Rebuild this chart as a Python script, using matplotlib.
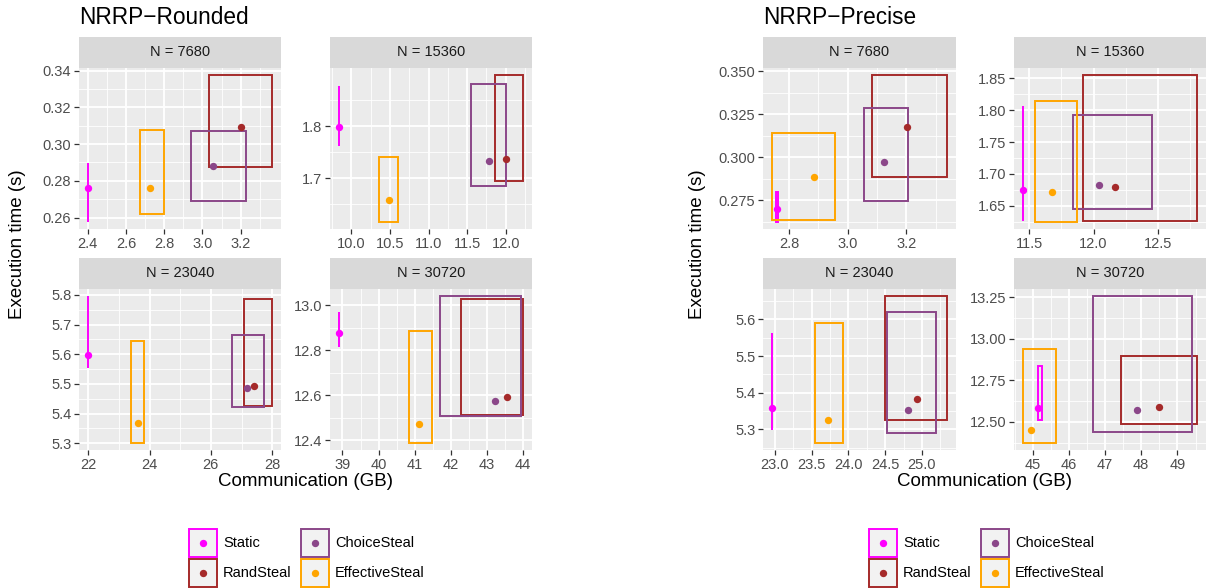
"""Communication vs execution time for the NRRP variants, one facet per N."""

import matplotlib
matplotlib.use("Agg")
import matplotlib.pyplot as plt
from matplotlib.patches import Rectangle
from matplotlib.ticker import FormatStrFormatter

plt.rcParams["font.family"] = ["Liberation Sans", "DejaVu Sans"]

strategies = ["Static", "RandSteal", "ChoiceSteal", "EffectiveSteal"]
colors = ["#FF00FF", "#A52A2A", "#8B4789", "#FFA500"]
sizes = [7680, 15360, 23040, 30720]

# rows = N, columns = strategies (Static, RandSteal, ChoiceSteal, EffectiveSteal)
rounded_x = [[2.403, 3.200, 3.057, 2.726],
             [9.844, 12.004, 11.786, 10.484],
             [22.0, 27.40, 27.18, 23.616],
             [38.91, 43.55, 43.22, 41.13]]
rounded_y = [[0.2761, 0.3093, 0.2881, 0.2761],
             [1.799, 1.736, 1.734, 1.659],
             [5.596, 5.494, 5.487, 5.367],
             [12.878, 12.595, 12.574, 12.474]]
rounded_xmin = [[2.403, 3.036, 2.940, 2.675],
                [9.844, 11.857, 11.546, 10.363],
                [22.0, 27.076, 26.686, 23.40],
                [38.91, 42.27, 41.70, 40.83]]
rounded_xmax = [[2.403, 3.362, 3.228, 2.797],
                [9.844, 12.220, 12.000, 10.609],
                [22.0, 27.987, 27.748, 23.81],
                [38.91, 43.99, 43.94, 41.47]]
rounded_ymin = [[0.2578, 0.2878, 0.2689, 0.2618],
                [1.761, 1.695, 1.685, 1.617],
                [5.553, 5.427, 5.423, 5.302],
                [12.815, 12.515, 12.509, 12.390]]
rounded_ymax = [[0.2896, 0.3374, 0.3071, 0.3077],
                [1.877, 1.897, 1.880, 1.741],
                [5.795, 5.786, 5.664, 5.643],
                [12.970, 13.028, 13.040, 12.888]]
rounded_xticks = [[2.4, 2.6, 2.8, 3.0, 3.2],
                  [10.0, 10.5, 11.0, 11.5, 12.0],
                  [22, 24, 26, 28],
                  [39, 40, 41, 42, 43, 44]]
rounded_yticks = [[0.26, 0.28, 0.30, 0.32, 0.34],
                  [1.7, 1.8],
                  [5.3, 5.4, 5.5, 5.6, 5.7, 5.8],
                  [12.4, 12.6, 12.8, 13.0]]
rounded_xfmt = ["%.1f", "%.1f", "%d", "%d"]
rounded_yfmt = ["%.2f", "%.1f", "%.1f", "%.1f"]

precise_x = [[2.758, 3.202, 3.122, 2.885],
             [11.448, 12.165, 12.041, 11.675],
             [22.96, 24.93, 24.81, 23.728],
             [45.155, 48.479, 47.886, 44.954]]
precise_y = [[0.2696, 0.3176, 0.2971, 0.2882],
             [1.6746, 1.680, 1.682, 1.671],
             [5.357, 5.384, 5.354, 5.326],
             [12.585, 12.591, 12.569, 12.452]]
precise_xmin = [[2.754, 3.081, 3.054, 2.741],
                [11.448, 11.920, 11.840, 11.544],
                [22.96, 24.502, 24.529, 23.548],
                [45.137, 47.447, 46.67, 44.726]]
precise_xmax = [[2.762, 3.339, 3.207, 2.958],
                [11.448, 12.809, 12.459, 11.871],
                [22.96, 25.344, 25.186, 23.928],
                [45.247, 49.548, 49.41, 45.639]]
precise_ymin = [[0.2624, 0.2884, 0.2746, 0.2632],
                [1.6267, 1.6265, 1.645, 1.6249],
                [5.299, 5.325, 5.289, 5.2635],
                [12.508, 12.485, 12.438, 12.374]]
precise_ymax = [[0.2795, 0.3475, 0.3287, 0.3137],
                [1.8068, 1.855, 1.793, 1.8149],
                [5.564, 5.663, 5.621, 5.591],
                [12.834, 12.895, 13.256, 12.940]]
precise_xticks = [[2.8, 3.0, 3.2],
                  [11.5, 12.0, 12.5],
                  [23.0, 23.5, 24.0, 24.5, 25.0],
                  [45, 46, 47, 48, 49]]
precise_yticks = [[0.275, 0.300, 0.325, 0.350],
                  [1.65, 1.70, 1.75, 1.80, 1.85],
                  [5.3, 5.4, 5.5, 5.6],
                  [12.50, 12.75, 13.00, 13.25]]
precise_xfmt = ["%.1f", "%.1f", "%.1f", "%d"]
precise_yfmt = ["%.3f", "%.2f", "%.1f", "%.2f"]

W, H = 1209, 588
fig = plt.figure(figsize=(W / 100, H / 100), dpi=100)

TICK_COL = "#4D4D4D"


def px_axes(x0, y0, x1, y1):
    return fig.add_axes([x0 / W, 1 - y1 / H, (x1 - x0) / W, (y1 - y0) / H])


def minor_ticks(ticks):
    step = ticks[1] - ticks[0]
    return [ticks[0] - step / 2] + [t + step / 2 for t in ticks]


def facet(box, n, x, y, xmin, xmax, ymin, ymax, xt, yt, xf, yf):
    x0, x1, top = box
    strip = px_axes(x0, top, x1, top + 31)
    strip.set_facecolor("#D9D9D9")
    strip.set_xticks([])
    strip.set_yticks([])
    for s in strip.spines.values():
        s.set_visible(False)
    strip.text(0.5, 0.5, "N = %d" % n, ha="center", va="center",
               fontsize=10.5, color="#1A1A1A", transform=strip.transAxes)

    ax = px_axes(x0, top + 31, x1, top + 192)
    ax.set_facecolor("#EBEBEB")
    for i in range(len(strategies)):
        ax.add_patch(Rectangle((xmin[i], ymin[i]), xmax[i] - xmin[i],
                               ymax[i] - ymin[i], fill=False,
                               edgecolor=colors[i], linewidth=1.4, zorder=3))
        ax.scatter(x[i], y[i], s=28, color=colors[i], zorder=4, linewidths=0)

    ax.set_xticks(xt)
    ax.set_yticks(yt)
    ax.set_xticks(minor_ticks(xt), minor=True)
    ax.set_yticks(minor_ticks(yt), minor=True)

    # limits after the ticks, else set_xticks widens the view
    lo, hi = min(xmin + x), max(xmax + x)
    pad = 0.05 * (hi - lo)
    ax.set_xlim(lo - pad, hi + pad)
    lo, hi = min(ymin + y), max(ymax + y)
    pad = 0.05 * (hi - lo)
    ax.set_ylim(lo - pad, hi + pad)

    ax.xaxis.set_major_formatter(FormatStrFormatter(xf))
    ax.yaxis.set_major_formatter(FormatStrFormatter(yf))
    ax.tick_params(which="major", length=3.5, width=0.9, color="#333333",
                   labelsize=10.5, labelcolor=TICK_COL, pad=2)
    ax.tick_params(which="minor", length=0)
    ax.grid(which="major", color="white", linewidth=1.3)
    ax.grid(which="minor", color="white", linewidth=0.6)
    ax.set_axisbelow(True)
    for s in ax.spines.values():
        s.set_visible(False)


def chart(dx, col_boxes, title, xs, ys, xmins, xmaxs, ymins, ymaxs,
          xticks, yticks, xfmt, yfmt):
    tops = [37, 37, 258, 258]
    for k in range(4):
        box = (col_boxes[k % 2][0], col_boxes[k % 2][1], tops[k])
        facet(box, sizes[k], xs[k], ys[k], xmins[k], xmaxs[k], ymins[k],
              ymaxs[k], xticks[k], yticks[k], xfmt[k], yfmt[k])
    left = col_boxes[0][0]
    right = col_boxes[1][1]
    fig.text(left / W, 1 - 18 / H, title, fontsize=16.3, va="center",
             ha="left", color="black")
    fig.text((left + right) / 2 / W, 1 - 481 / H, "Communication (GB)",
             fontsize=13.5, ha="center", va="center")
    fig.text((dx + 18) / W, 1 - 244 / H, "Execution time (s)",
             fontsize=13.5, ha="center", va="center", rotation=90)


chart(0, [(79, 281), (330, 532)], "NRRP\u2212Rounded",
      rounded_x, rounded_y, rounded_xmin, rounded_xmax, rounded_ymin,
      rounded_ymax, rounded_xticks, rounded_yticks, rounded_xfmt, rounded_yfmt)
chart(679, [(763, 956), (1014, 1206)], "NRRP\u2212Precise",
      precise_x, precise_y, precise_xmin, precise_xmax, precise_ymin,
      precise_ymax, precise_xticks, precise_yticks, precise_xfmt, precise_yfmt)

# legends, drawn in pixel coordinates on an overlay
ov = fig.add_axes([0, 0, 1, 1])
ov.set_xlim(0, W)
ov.set_ylim(H, 0)
ov.axis("off")
key_pos = [(188, 528), (188, 558), (300, 528), (300, 558)]
for dx in [0, 680]:
    for i, name in enumerate(strategies):
        kx, ky = key_pos[i]
        kx += dx
        ov.add_patch(Rectangle((kx + 1, ky + 1), 28, 28, facecolor="#F2F2F2",
                               edgecolor=colors[i], linewidth=1.4))
        ov.scatter(kx + 15, ky + 15, s=28, color=colors[i], linewidths=0)
        ov.text(kx + 35, ky + 15, name, fontsize=10.5, va="center",
                ha="left", color="black")

fig.savefig("out.png", dpi=100)
